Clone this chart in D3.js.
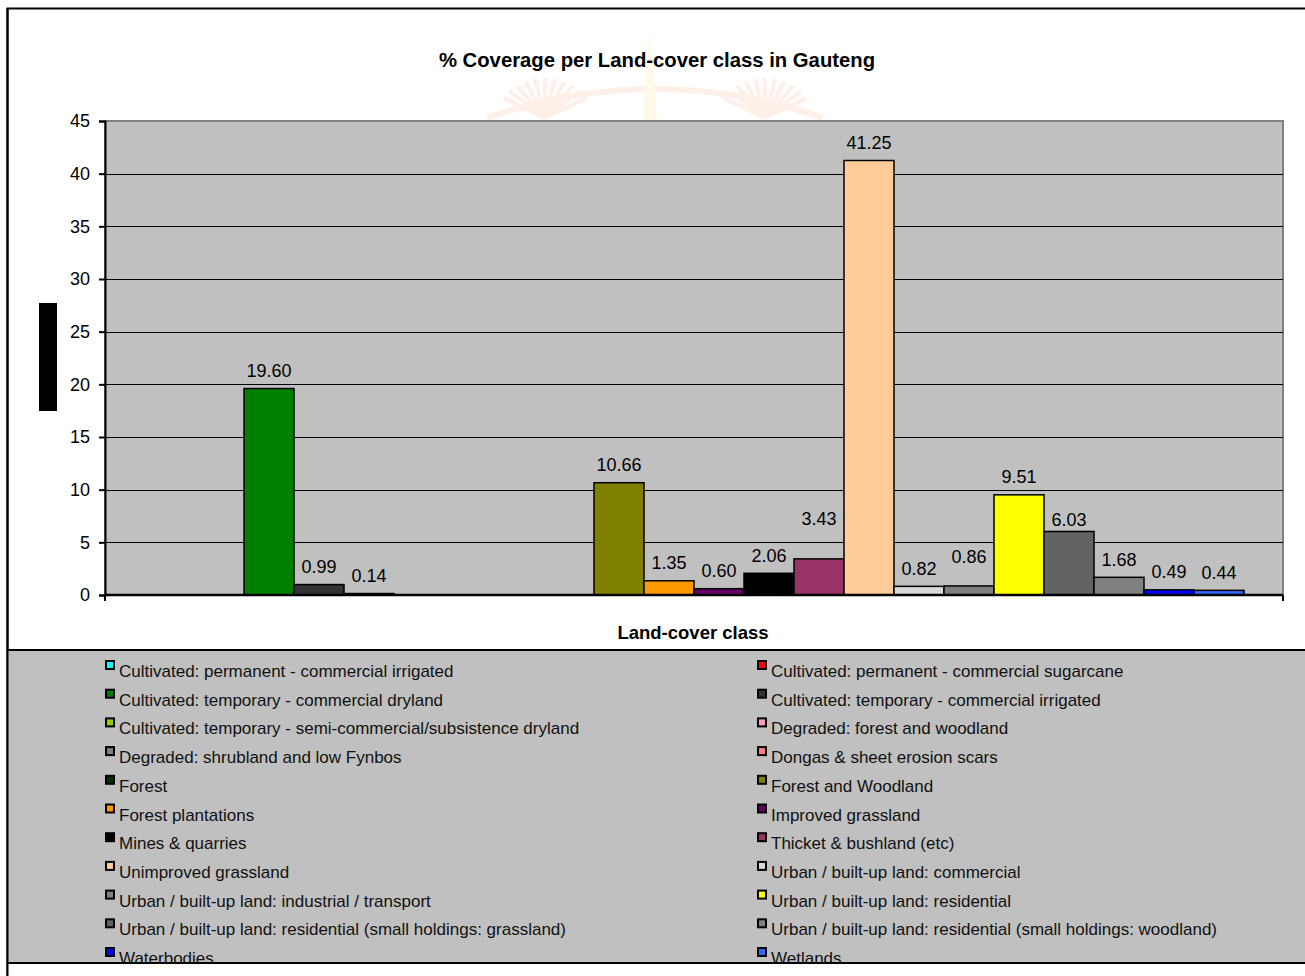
<!DOCTYPE html>
<html><head><meta charset="utf-8">
<script src="https://cdn.jsdelivr.net/npm/d3@7"></script>
<style>body{margin:0;background:#fff;} text{font-family:Arial,"Liberation Sans",sans-serif;}</style>
</head><body>
<svg id="chart" width="1305" height="976"></svg>
<script>
const seriesNames = [
 "Cultivated: permanent - commercial irrigated",
 "Cultivated: permanent - commercial sugarcane",
 "Cultivated: temporary - commercial dryland",
 "Cultivated: temporary - commercial irrigated",
 "Cultivated: temporary - semi-commercial/subsistence dryland",
 "Degraded: forest and woodland",
 "Degraded: shrubland and low Fynbos",
 "Dongas & sheet erosion scars",
 "Forest",
 "Forest and Woodland",
 "Forest plantations",
 "Improved grassland",
 "Mines & quarries",
 "Thicket & bushland (etc)",
 "Unimproved grassland",
 "Urban / built-up land: commercial",
 "Urban / built-up land: industrial / transport",
 "Urban / built-up land: residential",
 "Urban / built-up land: residential (small holdings: grassland)",
 "Urban / built-up land: residential (small holdings: woodland)",
 "Waterbodies",
 "Wetlands"
];
const values = [0, 0, 19.60, 0.99, 0.14, 0, 0, 0, 0, 10.66, 1.35, 0.60, 2.06, 3.43, 41.25, 0.82, 0.86, 9.51, 6.03, 1.68, 0.49, 0.44];
const colors = ["#00ffff","#ff0000","#008000","#333333","#99cc00","#ff99cc","#808080","#ff8080","#003300","#808000","#ff9900","#660066","#000000","#993366","#ffcc99","#d9d9d9","#808080","#ffff00","#636363","#808080","#0000ff","#3366ff"];
const yTicks = [0,5,10,15,20,25,30,35,40,45];
const chartTitle = "% Coverage per Land-cover class in Gauteng";
const xTitle = "Land-cover class";
// manual label placement tweaks (pixels, layout only)
const labelShift = {"Thicket & bushland (etc)": -22, "Urban / built-up land: industrial / transport": -11, "Urban / built-up land: residential (small holdings: grassland)": 6};

const svg = d3.select("#chart");
const plot = {left:105, right:1283, top:121, bottom:595};

// watermark (faint emblem)
const wm = svg.append("g").attr("opacity",0.12);
[[545,118],[765,118]].forEach(([cx,cy])=>{
  for(let a=-150;a<=-30;a+=12){
    const r=a*Math.PI/180;
    wm.append("line").attr("x1",cx).attr("y1",cy).attr("x2",cx+48*Math.cos(r)).attr("y2",cy+40*Math.sin(r))
      .attr("stroke","#f08a4b").attr("stroke-width",4);
  }
});
wm.append("path").attr("d","M487,118 Q655,60 823,118").attr("fill","none").attr("stroke","#f08a4b").attr("stroke-width",6);
wm.append("path").attr("d","M650,30 L657,120 L643,120 Z").attr("fill","#ffd84a");

// outer frame
svg.append("rect").attr("x",7.5).attr("y",8.5).attr("width",1300).attr("height",970)
  .attr("fill","none").attr("stroke","#000").attr("stroke-width",2);

// title
svg.append("text").attr("x",657).attr("y",67).attr("text-anchor","middle")
  .attr("font-size",20.3).attr("font-weight","bold").text(chartTitle);

const x = d3.scaleBand().domain(seriesNames).range([plot.left,plot.right]).paddingInner(0).paddingOuter(0.78);
const y = d3.scaleLinear().domain([0,45]).range([plot.bottom,plot.top]);

// plot background
svg.append("rect").attr("x",plot.left).attr("y",plot.top).attr("width",plot.right-plot.left).attr("height",plot.bottom-plot.top)
  .attr("fill","#c0c0c0").attr("stroke","#808080").attr("stroke-width",2);

// gridlines
svg.append("g").selectAll("line").data(yTicks.filter(t=>t>0&&t<45)).join("line")
  .attr("x1",plot.left).attr("x2",plot.right).attr("y1",d=>Math.round(y(d))+0.5).attr("y2",d=>Math.round(y(d))+0.5)
  .attr("stroke","#000").attr("stroke-width",1);

// y axis
const yAxis = d3.axisLeft(y).tickValues(yTicks).tickSize(6).tickPadding(9).tickFormat(d3.format("d"));
const ya = svg.append("g").attr("transform",`translate(${plot.left},0)`).call(yAxis);
ya.select(".domain").attr("stroke","#000").attr("stroke-width",2);
ya.selectAll(".tick line").attr("stroke","#000").attr("stroke-width",2);
ya.selectAll("text").attr("font-size",18).attr("font-family","Arial, 'Liberation Sans', sans-serif").attr("fill","#000");

// bars
svg.append("g").selectAll("rect").data(seriesNames).join("rect")
  .attr("x",d=>x(d)).attr("width",x.bandwidth())
  .attr("y",(d,i)=>y(values[i])).attr("height",(d,i)=>y(0)-y(values[i]))
  .attr("fill",(d,i)=>colors[i]).attr("stroke","#000").attr("stroke-width",1.5)
  .attr("display",(d,i)=>values[i]>0?null:"none");

// value labels
svg.append("g").selectAll("text").data(seriesNames.filter((d,i)=>values[i]>0)).join("text")
  .attr("x",d=>x(d)+x.bandwidth()/2).attr("y",d=>y(values[seriesNames.indexOf(d)])-11.5+(labelShift[d]||0))
  .attr("text-anchor","middle").attr("font-size",18)
  .text(d=>values[seriesNames.indexOf(d)].toFixed(2));

// x axis
const xa = svg.append("g").attr("transform",`translate(0,${plot.bottom})`);
xa.append("line").attr("x1",plot.left).attr("x2",plot.right).attr("stroke","#000").attr("stroke-width",2.5);
xa.selectAll("line.t").data([plot.left,plot.right]).join("line").attr("class","t")
  .attr("x1",d=>d).attr("x2",d=>d).attr("y1",0).attr("y2",6).attr("stroke","#000").attr("stroke-width",2);

svg.append("text").attr("x",693).attr("y",639).attr("text-anchor","middle")
  .attr("font-size",18.5).attr("font-weight","bold").text(xTitle);

// y axis title (blacked out box)
svg.append("rect").attr("x",39).attr("y",303).attr("width",18).attr("height",108).attr("fill","#000");

// legend
const lg = svg.append("g");
lg.append("rect").attr("x",8).attr("y",650).attr("width",1305).attr("height",313).attr("fill","#c0c0c0");
lg.append("line").attr("x1",8).attr("x2",1305).attr("y1",650).attr("y2",650).attr("stroke","#000").attr("stroke-width",2);
const rowY = i => 677 + Math.floor(i/2)*28.7;
const colX = i => i%2===0 ? 105 : 757;
const items = lg.append("g").selectAll("g").data(seriesNames).join("g")
  .attr("transform",(d,i)=>`translate(${colX(i)},${rowY(i)})`);
items.append("rect").attr("x",1).attr("y",-16).attr("width",8).attr("height",8)
  .attr("fill",(d,i)=>colors[i]).attr("stroke","#000").attr("stroke-width",2);
items.append("text").attr("x",14).attr("y",0).attr("font-size",17).attr("fill","#111").text(d=>d);
lg.append("rect").attr("x",8).attr("y",964).attr("width",1305).attr("height",12).attr("fill","#fff");
lg.append("line").attr("x1",8).attr("x2",1305).attr("y1",963).attr("y2",963).attr("stroke","#000").attr("stroke-width",2);
svg.append("line").attr("x1",7.5).attr("x2",7.5).attr("y1",8).attr("y2",976).attr("stroke","#000").attr("stroke-width",2);
</script>
</body></html>
